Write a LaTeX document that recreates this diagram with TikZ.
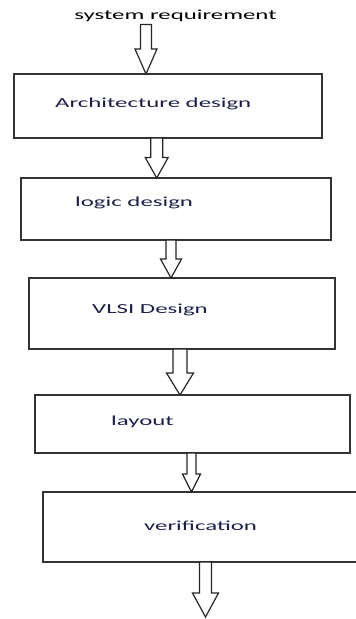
\documentclass[tikz,border=0pt]{standalone}
\usepackage{fontspec}
\newfontfamily\flowfont[FakeStretch=1.8]{Carlito}
\usetikzlibrary{positioning,calc}
\definecolor{labelnavy}{RGB}{28,32,72}

% hollow down arrow: top, tip, x of tip, half shaft, half head, head length
\newcommand{\flowarrow}[6]{%
  \draw[hollow] let \p1=(#1), \p2=(#2) in
    (#3-#4,\y1) -- (#3-#4,\y2+#6) -- (#3-#5,\y2+#6) -- (#3,\y2)
    -- (#3+#5,\y2+#6) -- (#3+#4,\y2+#6) -- (#3+#4,\y1) -- cycle;}

\begin{document}
\begin{tikzpicture}[x=1pt,y=-1pt,
    stage/.style={draw=black!80,line width=1.6pt,rectangle,inner sep=0pt,outer sep=0pt},
    stagetext/.style={font=\flowfont\fontsize{13.8}{16}\selectfont,text=labelnavy,inner sep=0pt},
    hollow/.style={draw=black!85,line width=1.2pt,fill=white,line join=miter}]

  \useasboundingbox (0,0) rectangle (356,619);
  \clip (0,0) rectangle (356,619);

  \node[stagetext,text=black] (req) at (175.5,15.5) {system requirement};

  \node[stage,minimum width=308pt,minimum height=64pt] (arch) at (168,106) {};
  \node[stage,minimum width=310pt,minimum height=62pt,below=40pt of arch,xshift=8pt] (logic) {};
  \node[stage,minimum width=306pt,minimum height=71pt,below=38pt of logic,xshift=6pt] (vlsi) {};
  \node[stage,minimum width=315pt,minimum height=58pt,below=46pt of vlsi,xshift=10.5pt] (layout) {};
  \node[stage,minimum width=327pt,minimum height=70pt,below=39pt of layout,xshift=14pt] (verif) {};

  \node[stagetext,right=41pt of arch.west,yshift=2pt] {Architecture design};
  \node[stagetext,right=54pt of logic.west,yshift=6pt] {logic design};
  \node[stagetext,right=63pt of vlsi.west,yshift=3.5pt] {VLSI Design};
  \node[stagetext,right=76pt of layout.west,yshift=2pt] {layout};
  \node[stagetext,right=101pt of verif.west,yshift=1pt] {verification};

  \coordinate (out) at (205.5,617);

  \flowarrow{$(req.south)+(0,3)$}{arch.north}{146pt}{5.5pt}{11pt}{25pt}
  \flowarrow{arch.south}{logic.north}{156.7pt}{6pt}{11.5pt}{20.6pt}
  \flowarrow{logic.south}{vlsi.north}{171pt}{5pt}{10.5pt}{19pt}
  \flowarrow{vlsi.south}{layout.north}{180pt}{7pt}{13.5pt}{22pt}
  \flowarrow{layout.south}{verif.north}{191.5pt}{4.5pt}{9pt}{18pt}
  \flowarrow{verif.south}{out}{205.5pt}{6pt}{13pt}{24pt}
\end{tikzpicture}
\end{document}
